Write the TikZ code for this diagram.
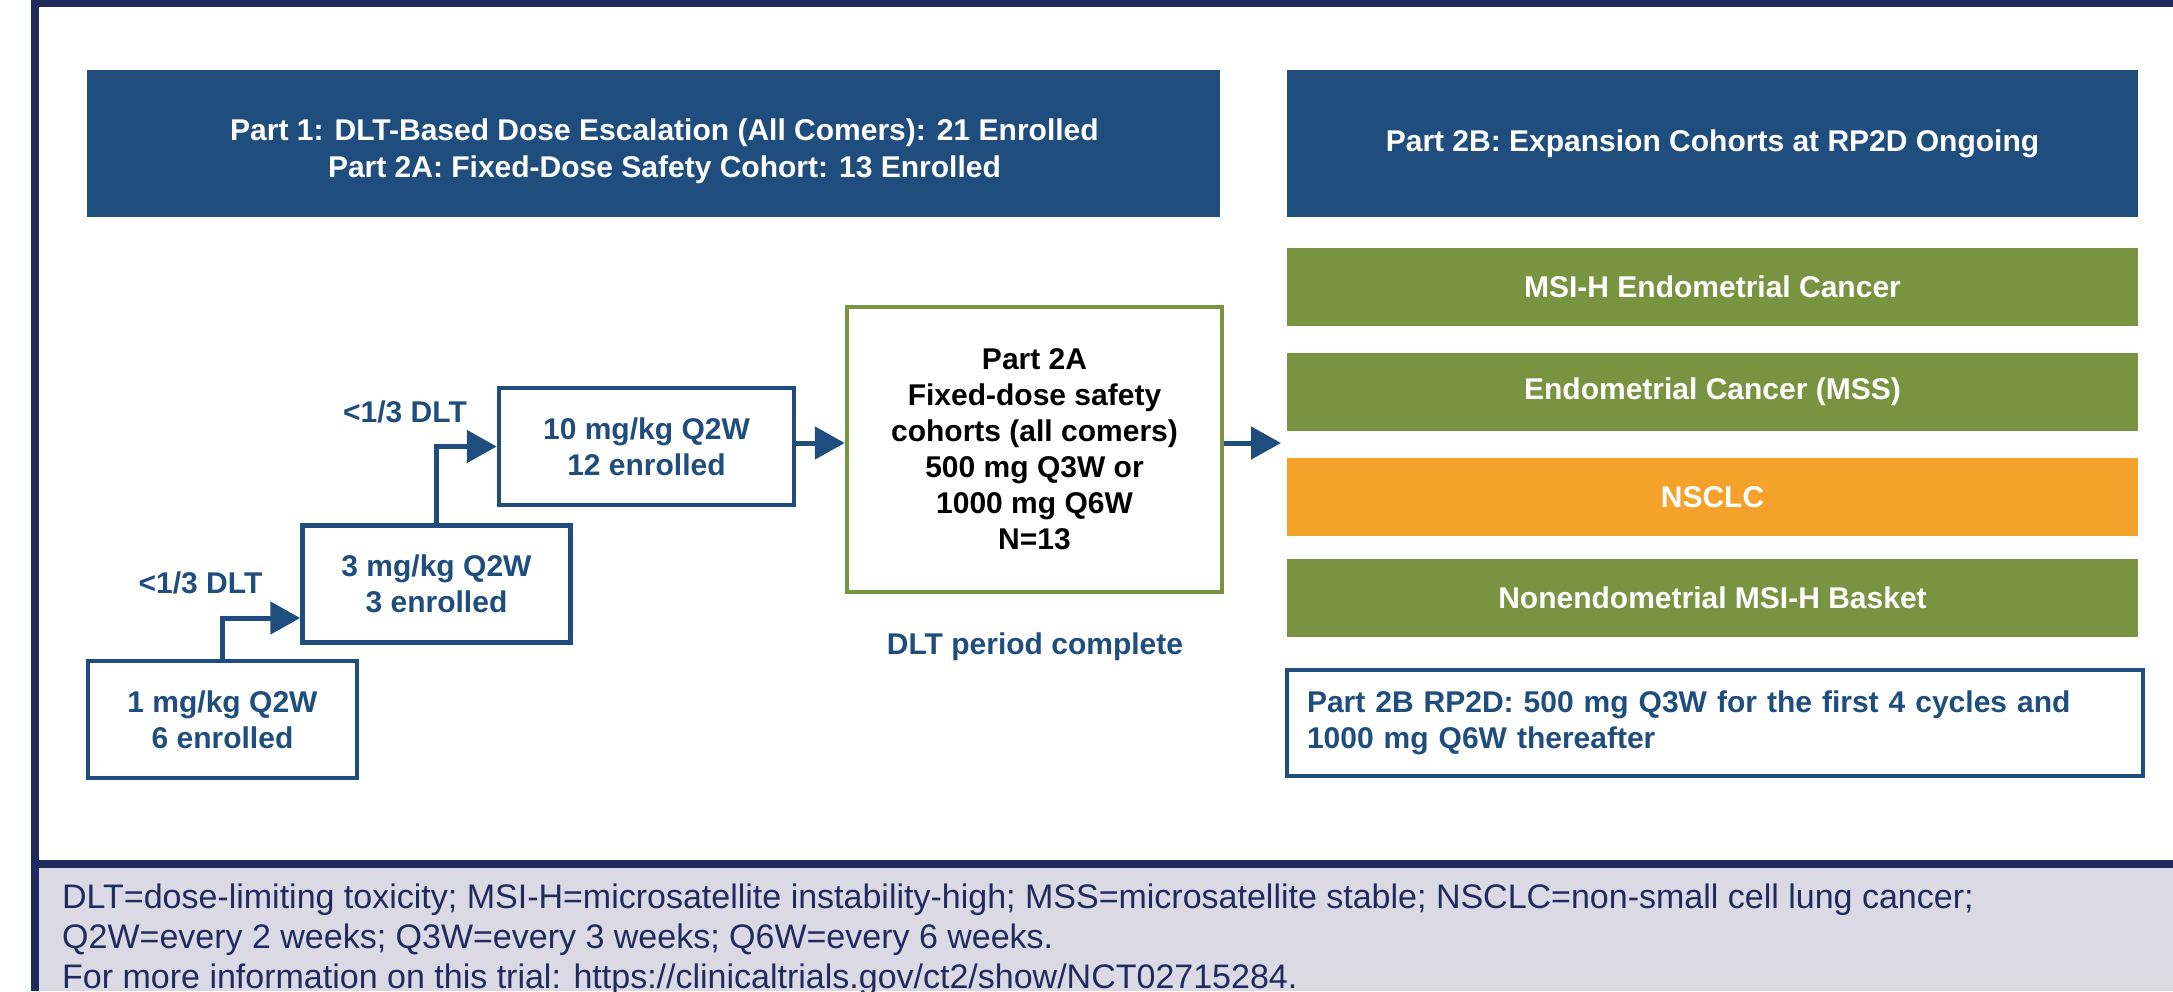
\documentclass[tikz,border=0pt]{standalone}
\usepackage{fontspec}
\setmainfont{Liberation Sans}
\usetikzlibrary{arrows.meta}
\definecolor{navy}{RGB}{31,42,94}
\definecolor{trialblue}{RGB}{31,78,126}
\definecolor{cohortgreen}{RGB}{120,148,64}
\definecolor{cohortorange}{RGB}{245,162,43}
\definecolor{footgray}{RGB}{218,217,228}

\begin{document}
\begin{tikzpicture}[x=1pt,y=-1pt,
  boxfont/.style={font=\bfseries\fontsize{30}{36}\selectfont},
  headbox/.style={fill=trialblue,inner sep=0pt,minimum width=#1,minimum height=147pt},
  headtext/.style={boxfont,text=white,align=center,inner sep=0pt},
  cohortbox/.style={boxfont,fill=#1,text=white,inner sep=0pt,minimum width=851pt,minimum height=78pt},
  dosebox/.style={boxfont,draw=trialblue,line width=4.5pt,fill=white,text=trialblue,align=center,inner sep=0pt,minimum width=#1,minimum height=117pt},
  dltlabel/.style={boxfont,text=trialblue,inner sep=0pt},
  flowarrow/.style={draw=trialblue,line width=5pt,-{Triangle[length=30pt,width=32pt]}}]
  \useasboundingbox (0,0) rectangle (2173,991);
  \fill [footgray] (39,868) rectangle (2173,991);
  \fill [navy] (31,0) rectangle (2173,7);
  \fill [navy] (31,0) rectangle (39,991);
  \fill [navy] (31,860) rectangle (2173,868);

  \node [headbox=1133pt] (hdrone) at (653.5,143.5) {};
  \node [headtext,font=\bfseries\fontsize{30}{37}\selectfont] (hdronetext) at ([xshift=11pt,yshift=-8pt]hdrone.center) {Part 1: DLT-Based Dose Escalation (All Comers): 21 Enrolled\\Part 2A: Fixed-Dose Safety Cohort: 13 Enrolled};
  \node [headbox=851pt] (hdrtwo) at (1712.5,143.5) {};
  \node [headtext] (hdrtwotext) at (hdrtwo.center) {Part 2B: Expansion Cohorts at RP2D Ongoing};

  \node [cohortbox=cohortgreen] (msih) at (1712.5,287) {MSI-H Endometrial Cancer};
  \node [cohortbox=cohortgreen] (mss) at (1712.5,391.5) {Endometrial Cancer (MSS)};
  \node [cohortbox=cohortorange] (nsclc) at (1712.5,497) {NSCLC};
  \node [cohortbox=cohortgreen] (basket) at (1712.5,598) {Nonendometrial MSI-H Basket};
  \node [boxfont,draw=trialblue,line width=4pt,text=trialblue,align=left,text width=816pt,inner sep=0pt,minimum width=856pt,minimum height=106pt] (rptwo) at (1715,723) {Part 2B RP2D: 500 mg Q3W for the first 4 cycles and\\1000 mg Q6W thereafter};

  \node [dosebox=269pt] (onemg) at (222.5,719.5) {1 mg/kg Q2W\\6 enrolled};
  \node [dosebox=268pt] (threemg) at (436.5,584) {3 mg/kg Q2W\\3 enrolled};
  \node [dosebox=295pt] (tenmg) at (646.5,446.5) {10 mg/kg Q2W\\12 enrolled};
  \node [dltlabel] (dltone) at (200.5,583) {<1/3 DLT};
  \node [dltlabel] (dlttwo) at (405,412) {<1/3 DLT};

  \node [boxfont,draw=cohortgreen,line width=4.5pt,align=center,inner sep=0pt,minimum width=375pt,minimum height=285pt] (parttwoa) at (1034.5,449.5) {Part 2A\\Fixed-dose safety\\cohorts (all comers)\\500 mg Q3W or\\1000 mg Q6W\\N=13};
  \node [dltlabel] (dltdone) at (1035,647) {DLT period complete};

  \coordinate (midline) at (0,443);
  \coordinate (cohortin) at (1281,443);
  \draw [flowarrow] (onemg.north) |- ([yshift=-34pt]threemg.west);
  \draw [flowarrow] (threemg.north) |- (tenmg.west);
  \draw [flowarrow] (tenmg.east |- midline) -- (parttwoa.west |- midline);
  \draw [flowarrow] (parttwoa.east |- midline) -- (cohortin);

  \node [anchor=north west,inner sep=0pt,align=left,text=navy,font=\fontsize{34}{40}\selectfont] (footnote) at (62,884) {DLT=dose-limiting toxicity; MSI-H=microsatellite instability-high; MSS=microsatellite stable; NSCLC=non-small cell lung cancer;\\Q2W=every 2 weeks; Q3W=every 3 weeks; Q6W=every 6 weeks.\\For more information on this trial: https://clinicaltrials.gov/ct2/show/NCT02715284.};
\end{tikzpicture}
\end{document}
